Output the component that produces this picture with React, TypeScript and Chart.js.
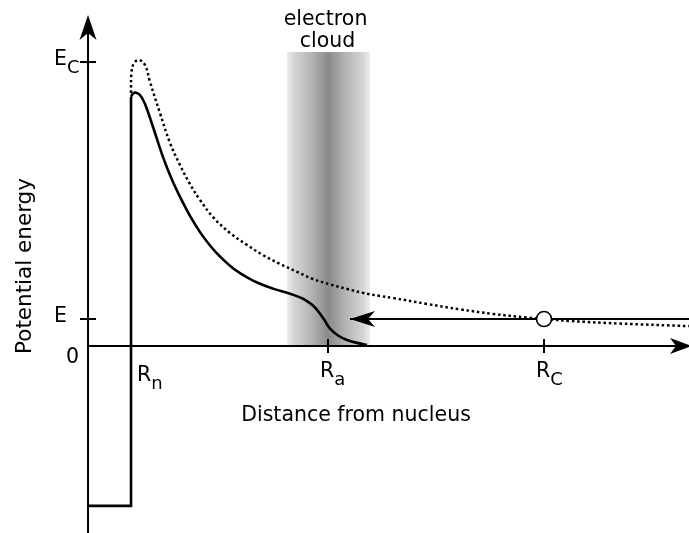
import { useEffect, useRef } from "react";
import { Chart, registerables } from "chart.js";

Chart.register(...registerables);

// ---- scale limits (data units: x in units of R_n, y in units of E_C) ----
const X_MIN = -2.047;
const X_MAX = 13.977;
const Y_MIN = -0.6585;
const Y_MAX = 1.2183;
const Y_AXIS_TOP = 1.1655; // tip of the potential-energy arrow

// ---- characteristic values ----
const R_VALUES = [1.0, 5.581, 10.605]; // R_n, R_a, R_C
const R_NAMES = ["R", "R", "R"];
const R_SUBS = ["n", "a", "C"];
const E_VALUES = [1.0, 0.095]; // E_C, E
const E_NAMES = ["E", "E"];
const E_SUBS = ["C", ""];
const ZERO_LABEL = "0";

// ---- nuclear well (solid) ----
const wellX = [0, 1.0, 1.0];
const wellY = [-0.563, -0.563, 0.877];

// ---- screened potential (solid) ----
const solidX = [1.0, 1.047, 1.116, 1.209, 1.326, 1.512, 1.744, 1.953, 2.14, 2.372, 2.605, 2.837, 3.07, 3.372, 3.698, 4.0, 4.302, 4.698, 4.93, 5.093, 5.256, 5.395, 5.512, 5.628, 5.814, 6.023, 6.256, 6.488];
const solidY = [0.877, 0.889, 0.892, 0.884, 0.852, 0.771, 0.665, 0.585, 0.525, 0.458, 0.401, 0.354, 0.315, 0.274, 0.242, 0.219, 0.202, 0.184, 0.171, 0.158, 0.139, 0.114, 0.088, 0.061, 0.037, 0.021, 0.011, 0.004];

// ---- bare Coulomb potential (dotted) ----
const dottedX = [1.0, 1.012, 1.07, 1.186, 1.326, 1.442, 1.674, 1.907, 2.14, 2.372, 2.605, 2.907, 3.302, 3.698, 4.07, 4.465, 4.86, 5.233, 5.628, 6.023, 6.395, 6.791, 7.093, 7.884, 8.651, 9.419, 10.209, 10.605, 11.209, 12.372, 13.977];
const dottedY = [0.891, 0.965, 0.996, 1.007, 0.989, 0.93, 0.82, 0.715, 0.637, 0.57, 0.514, 0.454, 0.398, 0.356, 0.32, 0.289, 0.261, 0.236, 0.217, 0.201, 0.187, 0.176, 0.169, 0.148, 0.129, 0.113, 0.1, 0.095, 0.088, 0.079, 0.07];

// ---- incoming particle at energy E ----
const energyLineX = [6.093, 13.977];
const energyLineY = [0.095, 0.095];
const particleX = [10.605];
const particleY = [0.095];

// ---- electron cloud band ----
const cloudRange = [4.628, 6.558];
const cloudTop = 1.035;
const cloudLabel = ["electron", "cloud"];

const X_TITLE = "Distance from nucleus";
const Y_TITLE = "Potential energy";

const FONT = '"DejaVu Sans", "Liberation Sans", sans-serif';

const zip = (xs: number[], ys: number[]) => xs.map((x, i) => ({ x, y: ys[i] }));

function arrowHead(ctx: CanvasRenderingContext2D, tx: number, ty: number, dx: number, dy: number, len: number, half: number, notch: number) {
  const px = -dy, py = dx;
  const bx = tx - dx * len, by = ty - dy * len;
  const nx = tx - dx * (len - notch), ny = ty - dy * (len - notch);
  ctx.beginPath();
  ctx.moveTo(tx, ty);
  ctx.lineTo(bx + px * half, by + py * half);
  ctx.lineTo(nx, ny);
  ctx.lineTo(bx - px * half, by - py * half);
  ctx.closePath();
  ctx.fillStyle = "#000";
  ctx.fill();
}

function subText(ctx: CanvasRenderingContext2D, main: string, sub: string, left: number, base: number) {
  ctx.font = `20.5px ${FONT}`;
  ctx.textAlign = "left";
  ctx.textBaseline = "alphabetic";
  ctx.fillStyle = "#000";
  ctx.fillText(main, left, base);
  const w = ctx.measureText(main).width;
  if (sub) {
    ctx.font = `18px ${FONT}`;
    ctx.fillText(sub, left + w, base + 8);
  }
}

const diagramPlugin = {
  id: "diagram",
  beforeDatasetsDraw(chart: any) {
    const { ctx, scales } = chart;
    const xs = scales.x, ys = scales.y;
    ctx.save();
    // electron cloud
    const l = xs.getPixelForValue(cloudRange[0]);
    const r = xs.getPixelForValue(cloudRange[1]);
    const t = ys.getPixelForValue(cloudTop);
    const b = ys.getPixelForValue(0);
    const g = ctx.createLinearGradient(l, 0, r, 0);
    g.addColorStop(0, "#ececec");
    g.addColorStop(0.08, "#d6d6d6");
    g.addColorStop(0.3, "#b2b2b2");
    g.addColorStop(0.5, "#8a8a8a");
    g.addColorStop(0.7, "#b2b2b2");
    g.addColorStop(0.92, "#d6d6d6");
    g.addColorStop(1, "#eeeeee");
    ctx.fillStyle = g;
    ctx.fillRect(l, t, r - l, b - t);

    // axes
    const x0 = xs.getPixelForValue(0);
    const y0 = ys.getPixelForValue(0);
    const yTop = ys.getPixelForValue(Y_AXIS_TOP);
    const yBot = ys.getPixelForValue(Y_MIN);
    const xRight = xs.getPixelForValue(X_MAX) + 3;
    ctx.strokeStyle = "#000";
    ctx.lineWidth = 2;
    ctx.beginPath();
    ctx.moveTo(x0, yBot);
    ctx.lineTo(x0, yTop + 15);
    ctx.moveTo(x0, y0);
    ctx.lineTo(xRight - 15, y0);
    ctx.stroke();
    arrowHead(ctx, x0, yTop, 0, -1, 25, 8.5, 7);
    arrowHead(ctx, xRight, y0, 1, 0, 22, 8, 6);

    // ticks
    ctx.lineWidth = 2;
    ctx.beginPath();
    E_VALUES.forEach((v) => {
      const py = ys.getPixelForValue(v);
      ctx.moveTo(x0 - 8, py);
      ctx.lineTo(x0 + 8, py);
    });
    R_VALUES.slice(1).forEach((v) => {
      const px = xs.getPixelForValue(v);
      ctx.moveTo(px, y0 - 7);
      ctx.lineTo(px, y0 + 7);
    });
    ctx.stroke();
    ctx.restore();
  },
  afterDatasetsDraw(chart: any) {
    const { ctx, scales } = chart;
    const xs = scales.x, ys = scales.y;
    ctx.save();
    // arrow head on energy line
    arrowHead(ctx, xs.getPixelForValue(energyLineX[0]), ys.getPixelForValue(energyLineY[0]), -1, 0, 25, 8, 7);

    const x0 = xs.getPixelForValue(0);
    const y0 = ys.getPixelForValue(0);
    // energy labels
    E_VALUES.forEach((v, i) => {
      subText(ctx, E_NAMES[i], E_SUBS[i], x0 - 34, ys.getPixelForValue(v) + 3);
    });
    ctx.font = `20.5px ${FONT}`;
    ctx.fillText(ZERO_LABEL, x0 - 22, y0 + 17);
    // distance labels
    R_VALUES.forEach((v, i) => {
      const px = xs.getPixelForValue(v);
      const left = i === 0 ? px + 6 : px - 8;
      const base = i === 0 ? y0 + 35 : y0 + 31;
      subText(ctx, R_NAMES[i], R_SUBS[i], left, base);
    });
    // titles
    ctx.font = `20.5px ${FONT}`;
    ctx.fillStyle = "#000";
    ctx.textAlign = "center";
    ctx.fillText(X_TITLE, 356, 421);
    ctx.save();
    ctx.font = `21.5px ${FONT}`;
    ctx.translate(31, 266);
    ctx.rotate(-Math.PI / 2);
    ctx.fillText(Y_TITLE, 0, 0);
    ctx.restore();
    // cloud label
    ctx.font = `20.5px ${FONT}`;
    const cx = xs.getPixelForValue((cloudRange[0] + cloudRange[1]) / 2);
    ctx.fillText(cloudLabel[0], cx - 3, 25);
    ctx.fillText(cloudLabel[1], cx - 1, 47);
    ctx.restore();
  },
};

export default function App() {
  const ref = useRef<HTMLCanvasElement | null>(null);
  useEffect(() => {
    if (!ref.current) return;
    const chart = new Chart(ref.current, {
      type: "scatter",
      data: {
        datasets: [
          {
            label: "particle",
            data: zip(particleX, particleY),
            pointRadius: 7.5,
            pointBackgroundColor: "#fff",
            pointBorderColor: "#000",
            pointBorderWidth: 1.6,
            showLine: false,
            order: 0,
            clip: false,
          },
          {
            label: "energy",
            data: zip(energyLineX, energyLineY),
            showLine: true,
            borderColor: "#000",
            borderWidth: 2,
            pointRadius: 0,
            order: 1,
            clip: false,
          },
          {
            label: "well",
            data: zip(wellX, wellY),
            showLine: true,
            borderColor: "#000",
            borderWidth: 2.6,
            pointRadius: 0,
            tension: 0,
            borderJoinStyle: "miter",
            order: 2,
            clip: false,
          },
          {
            label: "screened",
            data: zip(solidX, solidY),
            showLine: true,
            borderColor: "#000",
            borderWidth: 2.6,
            pointRadius: 0,
            tension: 0.4,
            order: 3,
            clip: false,
          },
          {
            label: "coulomb",
            data: zip(dottedX, dottedY),
            showLine: true,
            borderColor: "#000",
            borderWidth: 2.5,
            borderDash: [2.5, 2.8],
            pointRadius: 0,
            tension: 0.4,
            order: 4,
            clip: false,
          },
        ] as any,
      },
      options: {
        animation: false,
        responsive: false,
        maintainAspectRatio: false,
        layout: { padding: 0, autoPadding: false },
        plugins: { legend: { display: false }, tooltip: { enabled: false } },
        events: [],
        scales: {
          x: { type: "linear", min: X_MIN, max: X_MAX, display: false },
          y: { type: "linear", min: Y_MIN, max: Y_MAX, display: false },
        },
      } as any,
      plugins: [diagramPlugin],
    });
    return () => chart.destroy();
  }, []);
  return (
    <div style={{ position: "absolute", left: 0, top: 0, width: 689, height: 533, background: "#fff" }}>
      <canvas ref={ref} width={689} height={533} />
    </div>
  );
}
